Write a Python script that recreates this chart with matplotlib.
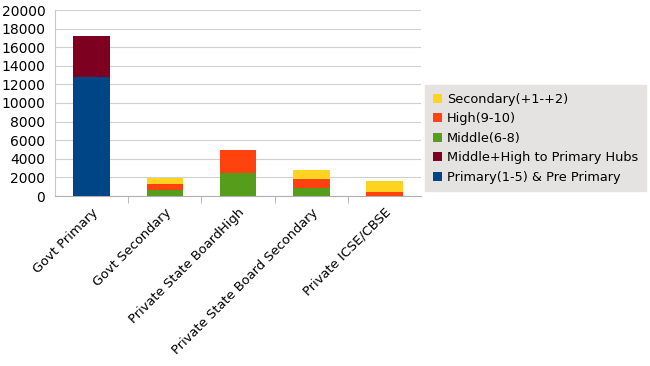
import numpy as np
import matplotlib.pyplot as plt

categories = ["Govt Primary", "Govt Secondary", "Private State BoardHigh",
              "Private State Board Secondary", "Private ICSE/CBSE"]
primary = [12800, 0, 0, 0, 0]
hubs = [4400, 0, 0, 0, 0]
middle = [0, 600, 2500, 900, 0]
high = [0, 650, 2500, 900, 450]
secondary = [0, 650, 0, 950, 1200]

series = [
    ("Primary(1-5) & Pre Primary", primary, "#004586"),
    ("Middle+High to Primary Hubs", hubs, "#7e0021"),
    ("Middle(6-8)", middle, "#579d1c"),
    ("High(9-10)", high, "#ff420e"),
    ("Secondary(+1-+2)", secondary, "#ffd320"),
]

plt.rcParams['font.family'] = ['DejaVu Sans']
fig = plt.figure(figsize=(6.5, 3.66), dpi=100)
ax = fig.add_axes([55 / 650, 1 - 196 / 366, 366 / 650, 186 / 366])

x = np.arange(len(categories))
bottom = np.zeros(len(categories))
handles = []
for name, vals, col in series:
    b = ax.bar(x, vals, 0.5, bottom=bottom, color=col, label=name, zorder=3)
    bottom += np.array(vals)
    handles.append(b)

ax.set_xlim(-0.5, len(categories) - 0.5)
ax.set_ylim(0, 20000)
ax.set_yticks(np.arange(0, 20001, 2000))
ax.tick_params(axis='y', labelsize=10, length=0, pad=7)
ax.yaxis.grid(True, color="#d0d0d0", lw=0.8, zorder=0)
for s in ["top", "right"]:
    ax.spines[s].set_visible(False)
ax.spines["left"].set_color("#c8c8c8")
ax.spines["bottom"].set_color("#b0b0b0")

ax.set_xticks(x)
ax.set_xticklabels(categories, rotation=45, ha="right", rotation_mode="anchor", fontsize=9.4)
ax.tick_params(axis='x', length=0, pad=7)
ax.set_xticks(np.arange(0.5, len(categories) - 1, 1), minor=True)
ax.tick_params(axis='x', which='minor', length=5, color="#b0b0b0")

leg = fig.legend(handles[::-1], [s[0] for s in series][::-1],
                 loc="upper left", bbox_to_anchor=(425 / 650, 1 - 85 / 366),
                 fontsize=9.3, frameon=True, fancybox=False, handlelength=0.7,
                 handleheight=0.7, handletextpad=0.4, labelspacing=0.5,
                 borderpad=0.6, borderaxespad=0)
leg.get_frame().set_facecolor("#e4e3e1")
leg.get_frame().set_edgecolor("#e4e3e1")
leg.get_frame().set_alpha(1)

fig.savefig("out.png", dpi=100)
